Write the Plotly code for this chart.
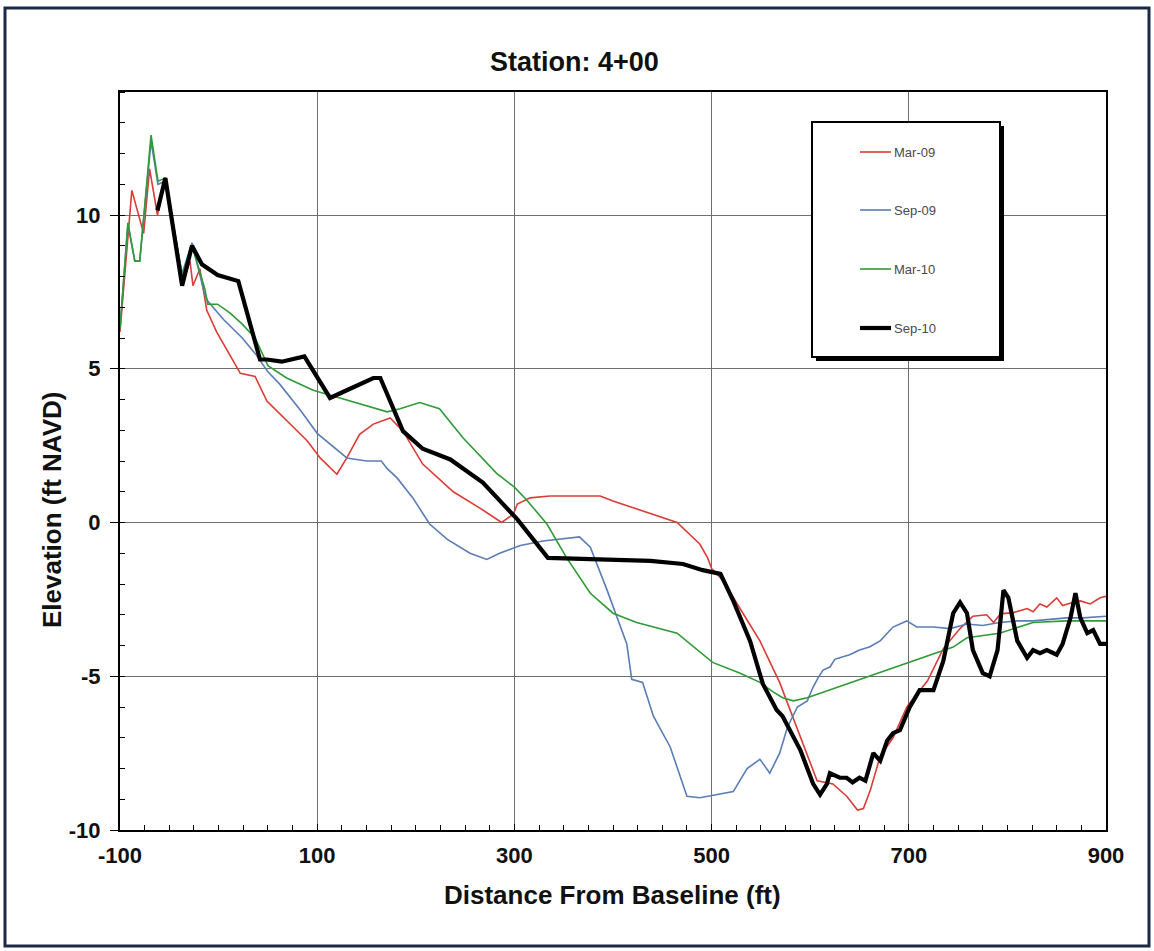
import plotly.graph_objects as go

# ---------------- data ----------------
mar09_x = [-100, -88, -76, -70, -62, -54, -36, -29, -26, -19, -12, -2, 22, 37, 49, 69, 90, 103, 120, 130,
           143, 157, 174, 187, 207, 238, 265, 287, 299, 303, 316, 336, 387, 400, 438, 465, 488, 496, 500, 512,
           526, 549, 569, 590, 607, 623, 637, 648, 654, 661, 671, 684, 698, 719, 735, 752, 765, 779, 786, 793,
           806, 820, 826, 833, 840, 850, 856, 866, 874, 884, 894, 900]
mar09_y = [6.2, 10.8, 9.4, 11.5, 10.0, 11.2, 7.8, 8.5, 7.7, 8.25, 6.9, 6.2, 4.85, 4.75, 3.95, 3.3, 2.65, 2.1, 1.57, 2.1,
           2.87, 3.2, 3.4, 2.97, 1.9, 1.0, 0.47, 0.0, 0.27, 0.6, 0.8, 0.86, 0.86, 0.7, 0.3, 0.0, -0.7, -1.15, -1.5, -1.9,
           -2.65, -3.85, -5.2, -7.0, -8.4, -8.5, -8.9, -9.35, -9.3, -8.7, -7.6, -7.0, -6.0, -5.15, -4.1, -3.45, -3.05, -3.0, -3.25, -2.97,
           -2.93, -2.8, -2.9, -2.65, -2.75, -2.45, -2.7, -2.6, -2.55, -2.65, -2.45, -2.4]

sep09_x = [-100, -92, -85, -80, -68.5, -61.5, -54, -37, -27, -14, -11, 5, 24, 37, 50, 62, 83, 100, 130, 150,
           165, 171, 181, 197, 214, 232, 255, 272, 285, 306, 329, 366, 377, 394, 414, 419, 430, 441, 458, 475,
           488, 505, 522, 536, 549, 559, 569, 577, 587, 597, 603, 608, 613, 620, 625, 630, 640, 650, 660, 671,
           684, 698, 708, 725, 742, 759, 775, 792, 810, 826, 843, 860, 877, 900]
sep09_y = [6.3, 9.7, 8.5, 8.5, 12.4, 11.0, 11.1, 8.1, 9.1, 7.4, 7.2, 6.6, 6.0, 5.5, 4.9, 4.5, 3.65, 2.9, 2.1, 2.0,
           2.0, 1.75, 1.45, 0.8, -0.05, -0.55, -1.0, -1.2, -1.0, -0.75, -0.6, -0.47, -0.8, -2.2, -3.95, -5.1, -5.2, -6.3, -7.3, -8.9,
           -8.95, -8.85, -8.75, -8.0, -7.7, -8.15, -7.5, -6.65, -6.0, -5.8, -5.35, -5.05, -4.8, -4.7, -4.45, -4.4, -4.3, -4.15, -4.05, -3.85,
           -3.4, -3.2, -3.4, -3.4, -3.45, -3.3, -3.35, -3.25, -3.2, -3.2, -3.15, -3.1, -3.1, -3.05]

mar10_x = [-100, -92, -85, -80, -68.5, -61.5, -54, -37, -27, -14, -11, -1, 12, 24, 37, 50, 69, 96, 123, 150,
           171, 184, 204, 224, 248, 282, 300, 312, 333, 353, 377, 400, 424, 465, 478, 501, 529, 549, 562, 572,
           583, 597, 745, 759, 792, 826, 860, 900]
mar10_y = [6.3, 9.75, 8.5, 8.5, 12.6, 11.1, 11.2, 8.05, 9.0, 7.6, 7.1, 7.1, 6.8, 6.45, 6.0, 5.1, 4.7, 4.3, 4.05, 3.8,
           3.6, 3.7, 3.9, 3.7, 2.75, 1.6, 1.15, 0.75, -0.05, -1.15, -2.3, -2.95, -3.25, -3.6, -3.95, -4.55, -4.9, -5.2, -5.5, -5.7,
           -5.8, -5.7, -4.05, -3.75, -3.6, -3.25, -3.2, -3.2]

sep10_x = [-62, -54, -37, -27, -17, -1, 20, 42, 49, 64, 87, 113, 130, 157, 164, 187, 207, 235, 268, 303,
           334, 387, 438, 471, 491, 509, 522, 539, 552, 566, 572, 590, 603, 610, 617, 620, 630, 637, 643, 650,
           656, 664, 671, 678, 684, 691, 701, 711, 725, 735, 745, 752, 759, 765, 775, 782, 790, 796, 801, 810,
           820, 826, 833, 840, 850, 856, 864, 869, 874, 881, 887, 894, 900]
sep10_y = [10.15, 11.2, 7.7, 9.0, 8.4, 8.05, 7.85, 5.3, 5.3, 5.23, 5.4, 4.05, 4.3, 4.7, 4.7, 2.97, 2.4, 2.05, 1.3, 0.1,
           -1.15, -1.2, -1.25, -1.35, -1.55, -1.67, -2.55, -3.85, -5.25, -6.1, -6.3, -7.4, -8.5, -8.85, -8.5, -8.15, -8.3, -8.3, -8.45, -8.3,
           -8.4, -7.5, -7.75, -7.1, -6.85, -6.75, -6.0, -5.45, -5.45, -4.5, -2.95, -2.6, -2.95, -4.15, -4.9, -5.0, -4.15, -2.2, -2.45, -3.85,
           -4.4, -4.15, -4.25, -4.15, -4.3, -3.95, -3.1, -2.3, -3.1, -3.6, -3.5, -3.95, -3.95]

series_names = ["Mar-09", "Sep-09", "Mar-10", "Sep-10"]
x_ticks = [-100, 100, 300, 500, 700, 900]
y_ticks = [-10, -5, 0, 5, 10]

# ---------------- styling / layout ----------------
W, H = 1154, 951
L, R, T, B = 120, 48, 92, 121
PW, PH = W - L - R, H - T - B
FONT = "Liberation Sans, Arial, Helvetica, sans-serif"


def fx(p):
    return (p - L) / PW


def fy(p):
    return (H - B - p) / PH


colors = ["#dd3b36", "#5a7db6", "#2f9a36", "#000000"]
widths = [1.6, 1.6, 1.6, 4.2]
xs = [mar09_x, sep09_x, mar10_x, sep10_x]
ys = [mar09_y, sep09_y, mar10_y, sep10_y]

fig = go.Figure()
for name, x, y, c, w in zip(series_names, xs, ys, colors, widths):
    fig.add_trace(go.Scatter(x=x, y=y, mode="lines", name=name,
                             line=dict(color=c, width=w), showlegend=False))

shapes = []
# outer figure border
shapes.append(dict(type="rect", xref="paper", yref="paper", x0=fx(5), x1=fx(1149), y0=fy(946), y1=fy(8),
                   line=dict(color="#1b2a47", width=3), fillcolor="rgba(0,0,0,0)", layer="above"))
# legend shadow + box
shapes.append(dict(type="rect", xref="paper", yref="paper", x0=fx(816), x1=fx(1004), y0=fy(361), y1=fy(126),
                   line=dict(width=0), fillcolor="#000000", layer="above"))
shapes.append(dict(type="rect", xref="paper", yref="paper", x0=fx(812), x1=fx(1000), y0=fy(357), y1=fy(122),
                   line=dict(color="#000000", width=2), fillcolor="#ffffff", layer="above"))
annotations = []
leg_y = [152, 210, 269, 328]
for name, c, w, ly in zip(series_names, colors, widths, leg_y):
    shapes.append(dict(type="line", xref="paper", yref="paper", x0=fx(860), x1=fx(891), y0=fy(ly), y1=fy(ly),
                       line=dict(color=c, width=w if w > 2 else 1.6), layer="above"))
    annotations.append(dict(text=name, xref="paper", yref="paper", x=fx(892), y=fy(ly), xanchor="left",
                            yanchor="middle", showarrow=False, font=dict(family=FONT, size=13, color="#4a4a4a")))

# titles as annotations
annotations.append(dict(text="Station: 4+00", xref="paper", yref="paper", x=fx(574), y=fy(62),
                        xanchor="center", yanchor="middle", showarrow=False,
                        font=dict(family=FONT, size=27, color="#111111", weight="bold")))
annotations.append(dict(text="Distance From Baseline (ft)", xref="paper", yref="paper", x=fx(612), y=fy(895),
                        xanchor="center", yanchor="middle", showarrow=False,
                        font=dict(family=FONT, size=26, color="#111111", weight="bold")))
annotations.append(dict(text="Elevation (ft NAVD)", xref="paper", yref="paper", x=fx(52), y=fy(510),
                        xanchor="center", yanchor="middle", showarrow=False, textangle=-90,
                        font=dict(family=FONT, size=26, color="#111111", weight="bold")))

fig.update_layout(
    width=W, height=H,
    margin=dict(l=L, r=R, t=T, b=B, autoexpand=False),
    paper_bgcolor="white", plot_bgcolor="white",
    shapes=shapes, annotations=annotations,
    showlegend=False,
)
fig.update_xaxes(range=[-100, 900], tickmode="array", tickvals=x_ticks,
                 ticktext=[str(v) for v in x_ticks],
                 showgrid=True, gridcolor="#6e6e6e", gridwidth=1, zeroline=False,
                 showline=True, linecolor="#000000", linewidth=2, mirror=True,
                 ticks="inside", ticklen=6, tickcolor="#000000",
                 minor=dict(dtick=25, tick0=-100, ticks="inside", ticklen=5, tickcolor="#000000", showgrid=False),
                 tickfont=dict(family=FONT, size=22, color="#111111", weight="bold"),
                 ticklabelstandoff=5)
fig.update_yaxes(range=[-10, 14], tickmode="array", tickvals=y_ticks,
                 ticktext=[str(v) for v in y_ticks],
                 showgrid=True, gridcolor="#6e6e6e", gridwidth=1, zeroline=False,
                 showline=True, linecolor="#000000", linewidth=2, mirror=True,
                 ticks="outside", ticklen=8, tickcolor="#000000",
                 minor=dict(dtick=1, tick0=0, ticks="inside", ticklen=5, tickcolor="#000000", showgrid=False),
                 tickfont=dict(family=FONT, size=22, color="#111111", weight="bold"),
                 ticklabelstandoff=5)

fig.write_html("out.html")
